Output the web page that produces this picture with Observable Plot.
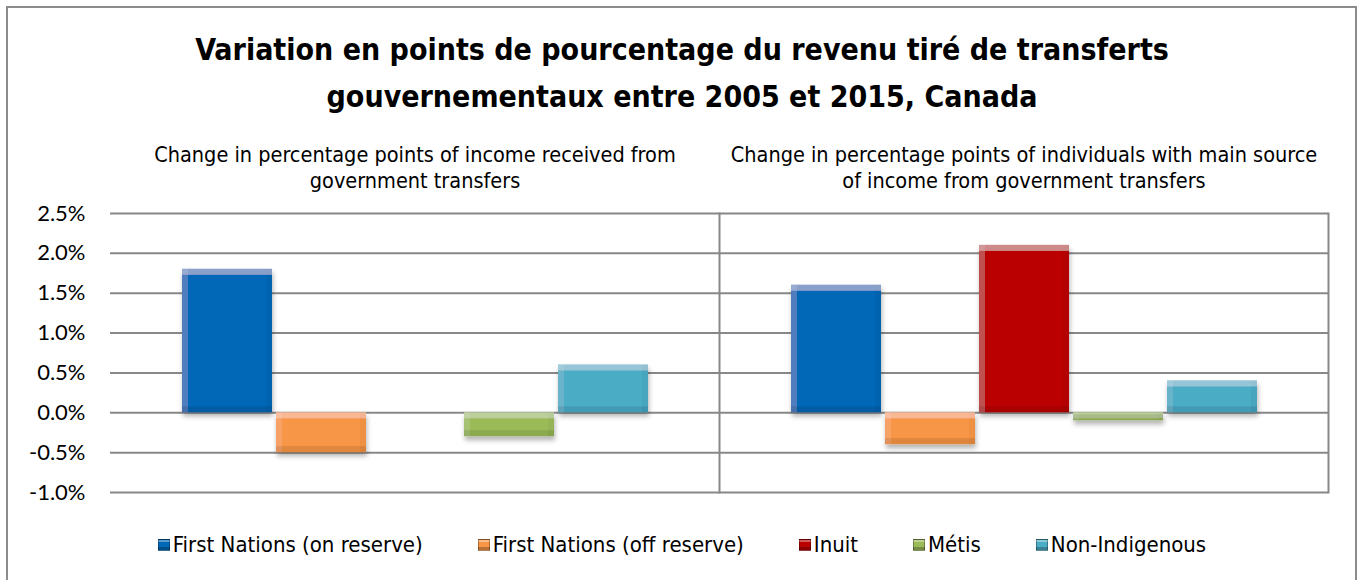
<!DOCTYPE html>
<html>
<head>
<meta charset="utf-8">
<script src="https://cdn.jsdelivr.net/npm/d3@7"></script>
<script src="https://cdn.jsdelivr.net/npm/@observablehq/plot@0.6"></script>
<style>
  html, body { margin: 0; padding: 0; background: #fff; overflow: hidden; }
  #wrap { position: relative; width: 1364px; height: 580px; overflow: hidden; background: #fff; }
  #frame { position: absolute; left: 6px; top: 6px; width: 1347px; height: 620px; border: 2px solid #8c8c8c; }
  #title { position: absolute; left: 0; top: 26px; width: 1364px; text-align: center;
    font-family: "DejaVu Sans Condensed", sans-serif; font-weight: bold; font-size: 30px; line-height: 47px; color: #000; }
  #chart { position: absolute; left: 0; top: 130px; }
  #legend { position: absolute; left: 0; top: 532px; width: 1364px; display: flex; justify-content: center; gap: 55px;
    font-family: "DejaVu Sans Condensed", sans-serif; font-size: 22px; color: #000; }
  .item { display: flex; align-items: center; gap: 3px; }
  .sw { width: 12px; height: 12px; box-sizing: border-box; border: 1px solid rgba(0,0,0,0.3); }
</style>
</head>
<body>
<div id="wrap">
  <div id="frame"></div>
  <div id="title">Variation en points de pourcentage du revenu tiré de transferts<br>gouvernementaux entre 2005 et 2015, Canada</div>
  <div id="chart"></div>
  <div id="legend"></div>
</div>
<script>
const panels = ["income", "individuals"];
const panelTitles = [
  "Change in percentage points of income received from\ngovernment transfers",
  "Change in percentage points of individuals with main source\nof income from government transfers"
];
const groups = ["First Nations (on reserve)", "First Nations (off reserve)", "Inuit", "Métis", "Non-Indigenous"];
const incomeValues = [1.8, -0.5, null, -0.3, 0.6];
const individualsValues = [1.6, -0.4, 2.1, -0.1, 0.4];
const colors = ["#0068B6", "#F79646", "#BA0000", "#9BBB59", "#4BACC6"];
const yTicks = [-1.0, -0.5, 0.0, 0.5, 1.0, 1.5, 2.0, 2.5];

const rows = [];
groups.forEach((g, i) => {
  if (incomeValues[i] != null) rows.push({panel: panels[0], group: g, value: incomeValues[i]});
  if (individualsValues[i] != null) rows.push({panel: panels[1], group: g, value: individualsValues[i]});
});
const subtitleRows = panels.map((p, i) => ({panel: p, title: panelTitles[i]}));

const plot = Plot.plot({
  width: 1364,
  height: 375,
  marginTop: 83,
  marginBottom: 13,
  marginLeft: 110,
  marginRight: 36,
  style: {fontFamily: "Lato, sans-serif", fontSize: "22px", color: "#000", background: "transparent"},
  fx: {domain: panels, padding: 0, axis: null},
  x: {domain: groups, paddingInner: 0.043, paddingOuter: 0.755, axis: null},
  y: {domain: [-1, 2.5], ticks: yTicks, tickFormat: d => d.toFixed(1) + "%", tickSize: 0, tickPadding: 25, label: null},
  color: {domain: groups, range: colors},
  marks: [
    Plot.gridY(yTicks, {stroke: "#888", strokeOpacity: 1, strokeWidth: 2}),
    Plot.barY(rows, {fx: "panel", x: "group", y: "value", fill: "group"}),
    Plot.frame({anchor: "right", stroke: "#888", strokeWidth: 2}),
    Plot.text(subtitleRows, {fx: "panel", frameAnchor: "top", text: "title", lineAnchor: "top", dy: -70,
      fontSize: 21.5, lineHeight: 1.22, fontFamily: "DejaVu Sans Condensed, sans-serif", fill: "#000"})
  ]
});

// bevel + soft shadow filter for bars (constant pixel width bands)
const svg = d3.select(plot);
const defs = svg.insert("defs", ":first-child");
const f = defs.append("filter").attr("id", "bevel")
  .attr("filterUnits", "userSpaceOnUse").attr("x", -2000).attr("y", -2000).attr("width", 6000).attr("height", 6000);
f.append("feGaussianBlur").attr("in", "SourceAlpha").attr("stdDeviation", 2.5).attr("result", "sb");
f.append("feOffset").attr("in", "sb").attr("dx", 1).attr("dy", 4).attr("result", "so");
f.append("feFlood").attr("flood-color", "#000").attr("flood-opacity", 0.3).attr("result", "sc");
f.append("feComposite").attr("in", "sc").attr("in2", "so").attr("operator", "in").attr("result", "shadow");
// top band (light)
f.append("feOffset").attr("in", "SourceAlpha").attr("dy", 6).attr("result", "down");
f.append("feComposite").attr("in", "SourceAlpha").attr("in2", "down").attr("operator", "out").attr("result", "topA");
f.append("feFlood").attr("flood-color", "#fff").attr("flood-opacity", 0.25).attr("result", "wc");
f.append("feComposite").attr("in", "wc").attr("in2", "topA").attr("operator", "in").attr("result", "topL");
// bottom band (dark)
f.append("feOffset").attr("in", "SourceAlpha").attr("dy", -6).attr("result", "up");
f.append("feComposite").attr("in", "SourceAlpha").attr("in2", "up").attr("operator", "out").attr("result", "botA");
f.append("feFlood").attr("flood-color", "#000").attr("flood-opacity", 0.2).attr("result", "bc");
f.append("feComposite").attr("in", "bc").attr("in2", "botA").attr("operator", "in").attr("result", "botD");
// side bands
f.append("feOffset").attr("in", "SourceAlpha").attr("dx", 6).attr("result", "right");
f.append("feOffset").attr("in", "SourceAlpha").attr("dx", -6).attr("result", "left");
f.append("feComposite").attr("in", "SourceAlpha").attr("in2", "right").attr("operator", "out").attr("result", "lA");
f.append("feComposite").attr("in", "SourceAlpha").attr("in2", "left").attr("operator", "out").attr("result", "rA");
f.append("feFlood").attr("flood-color", "#fff").attr("flood-opacity", 0.08).attr("result", "lc");
f.append("feComposite").attr("in", "lc").attr("in2", "lA").attr("operator", "in").attr("result", "lL");
f.append("feFlood").attr("flood-color", "#000").attr("flood-opacity", 0.08).attr("result", "rc");
f.append("feComposite").attr("in", "rc").attr("in2", "rA").attr("operator", "in").attr("result", "rD");
const m = f.append("feMerge");
["shadow", "SourceGraphic", "lL", "rD", "topL", "botD"].forEach(n => m.append("feMergeNode").attr("in", n));

svg.selectAll("g[aria-label='bar'] rect").attr("filter", "url(#bevel)");

document.getElementById("chart").appendChild(plot);

const legend = document.getElementById("legend");
groups.forEach((g, i) => {
  const item = document.createElement("div");
  item.className = "item";
  const sw = document.createElement("span");
  sw.className = "sw";
  sw.style.background = `linear-gradient(to bottom, rgba(255,255,255,0.35) 0 25%, rgba(0,0,0,0) 25% 75%, rgba(0,0,0,0.25) 75% 100%), ${colors[i]}`;
  const t = document.createElement("span");
  t.textContent = g;
  item.appendChild(sw);
  item.appendChild(t);
  legend.appendChild(item);
});
</script>
</body>
</html>
